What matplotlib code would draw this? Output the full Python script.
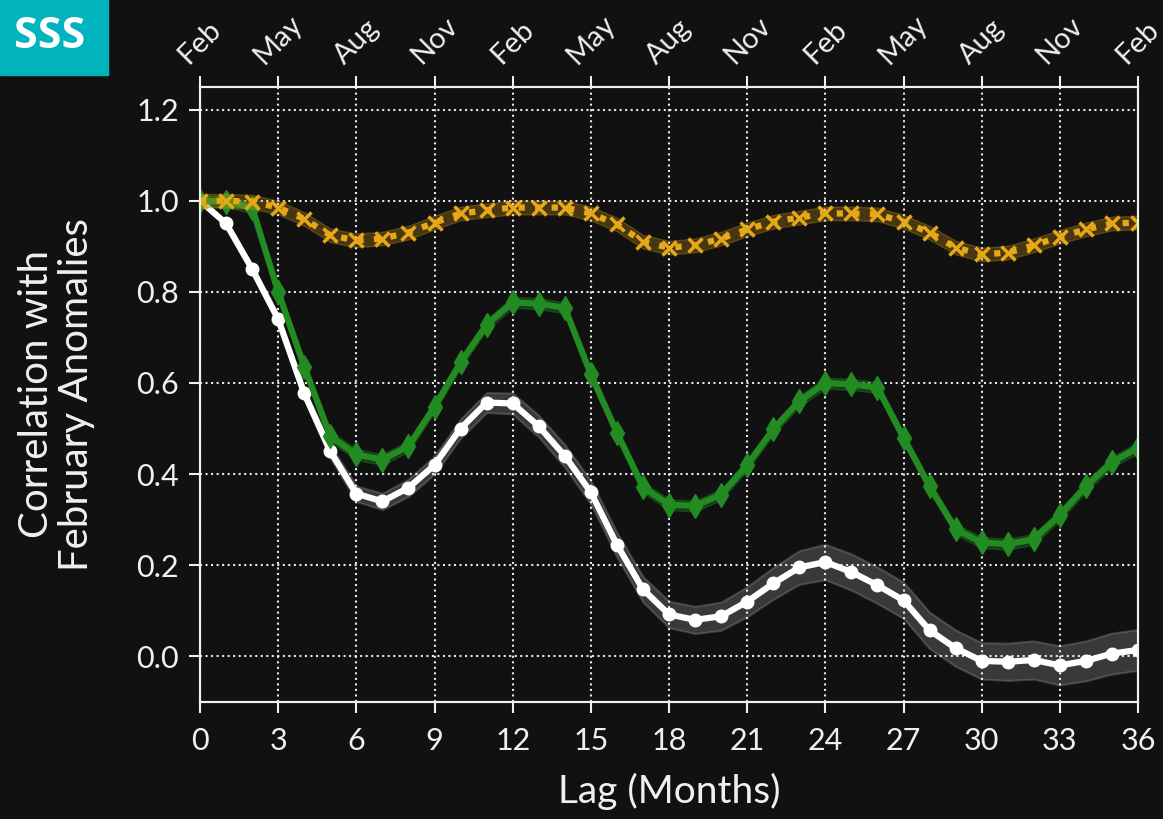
import numpy as np
import matplotlib
matplotlib.use('Agg')
import matplotlib.pyplot as plt

lags = np.arange(0, 37)

# correlation of each lag with the February anomalies
white_corr = [1.00, 0.95, 0.85, 0.74, 0.577, 0.45, 0.357, 0.34, 0.37, 0.42,
              0.50, 0.557, 0.555, 0.505, 0.44, 0.36, 0.245, 0.147, 0.092, 0.08,
              0.088, 0.12, 0.16, 0.195, 0.207, 0.185, 0.156, 0.123, 0.057, 0.018,
              -0.01, -0.012, -0.008, -0.02, -0.01, 0.006, 0.014]
white_err = [0.003, 0.006, 0.009, 0.011, 0.013, 0.015, 0.017, 0.018, 0.019, 0.02,
             0.021, 0.022, 0.023, 0.024, 0.025, 0.026, 0.027, 0.028, 0.029, 0.03,
             0.031, 0.033, 0.035, 0.037, 0.039, 0.04, 0.04, 0.04, 0.04, 0.04,
             0.04, 0.041, 0.042, 0.043, 0.044, 0.045, 0.045]

green_corr = [1.00, 0.998, 0.985, 0.80, 0.636, 0.483, 0.443, 0.432, 0.461, 0.548,
              0.645, 0.728, 0.777, 0.774, 0.765, 0.619, 0.491, 0.371, 0.333, 0.33,
              0.355, 0.42, 0.498, 0.56, 0.60, 0.597, 0.59, 0.48, 0.373, 0.279,
              0.25, 0.246, 0.257, 0.31, 0.373, 0.426, 0.458]
green_err = 0.012

gold_corr = [1.00, 1.00, 0.998, 0.985, 0.96, 0.924, 0.913, 0.917, 0.93, 0.952,
             0.972, 0.979, 0.985, 0.985, 0.985, 0.972, 0.948, 0.91, 0.897, 0.902,
             0.917, 0.937, 0.954, 0.963, 0.972, 0.972, 0.97, 0.954, 0.93, 0.897,
             0.882, 0.886, 0.902, 0.921, 0.937, 0.95, 0.952]
gold_err = 0.015

lag_ticks = np.arange(0, 37, 3)
month_labels = ['Feb', 'May', 'Aug', 'Nov'] * 3 + ['Feb']
y_ticks = [0.0, 0.2, 0.4, 0.6, 0.8, 1.0, 1.2]

bg = '#111111'
fg = '#f0f0f0'
green = '#228b22'
gold = '#e6a817'

plt.rcParams['font.family'] = ['Lato', 'DejaVu Sans']

fig = plt.figure(figsize=(11.63, 8.19), dpi=100, facecolor=bg)
ax = fig.add_axes([0.172, 0.143, 0.8065, 0.751], facecolor=bg)

w = np.array(white_corr)
we = np.array(white_err)
ax.fill_between(lags, w - we, w + we, color='white', alpha=0.17, lw=1.5, zorder=2)
ax.plot(lags, w, color='white', lw=4.5, marker='o', ms=9, zorder=3)

g = np.array(green_corr)
ax.fill_between(lags, g - green_err, g + green_err, color=green, alpha=0.35, lw=1, zorder=4)
ax.plot(lags, g, color=green, lw=4.5, marker='d', ms=12, zorder=5)

o = np.array(gold_corr)
ax.fill_between(lags, o - gold_err, o + gold_err, color=gold, alpha=0.25, lw=1, zorder=6)
ax.plot(lags, o, color=gold, lw=4.5, ls=':', marker='x', ms=10, mew=2.5, zorder=7)

ax.set_xlim(0, 36)
ax.set_ylim(-0.1, 1.25)
ax.set_xticks(lag_ticks)
ax.set_yticks(y_ticks)
ax.set_yticklabels(['%.1f' % v for v in y_ticks])
ax.grid(True, color='white', ls=':', lw=1.5, alpha=0.9)
ax.set_axisbelow(True)

for s in ax.spines.values():
    s.set_color(fg)
    s.set_linewidth(1.5)
ax.tick_params(colors=fg, labelsize=22, length=8, width=1.5, pad=7)
ax.tick_params(axis='x', pad=10)

ax.set_xlabel('Lag (Months)', color=fg, fontsize=28, labelpad=13)
ax.set_ylabel('Correlation with\nFebruary Anomalies', color=fg, fontsize=29, linespacing=1.1)
ax.yaxis.set_label_coords(-0.112, 0.5)

top = ax.twiny()
top.set_xlim(ax.get_xlim())
top.set_xticks(lag_ticks)
top.set_xticklabels(month_labels, rotation=45, ha='center')
top.tick_params(colors=fg, labelsize=21, length=8, width=1.5, pad=5)
for s in top.spines.values():
    s.set_color(fg)
    s.set_linewidth(1.5)

box = plt.Rectangle((0, 1 - 75 / 819), 108 / 1163, 75 / 819, transform=fig.transFigure,
                    color='#00b3bd', zorder=10)
fig.patches.append(box)
fig.text(50 / 1163, 1 - 36 / 819, 'SSS', color='white', fontsize=31, fontweight='bold',
         ha='center', va='center', zorder=11, family=['Open Sans', 'DejaVu Sans'])

fig.savefig('out.png', dpi=100, facecolor=bg)
